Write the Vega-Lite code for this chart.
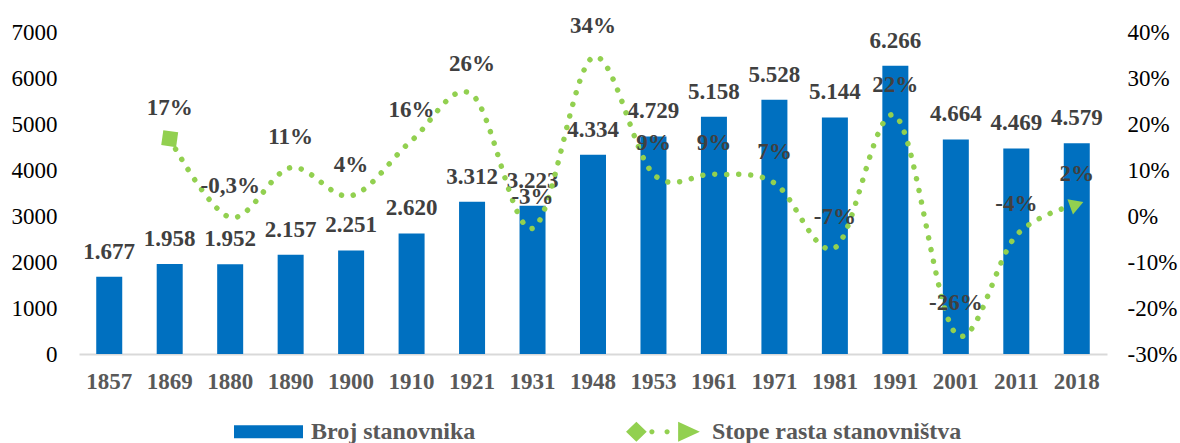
{
 "$schema": "https://vega.github.io/schema/vega-lite/v6.json",
 "width": 1028,
 "height": 322,
 "autosize": "none",
 "padding": {"left": 79, "top": 32, "right": 73, "bottom": 89},
 "background": "white",
 "config": {"view": {"stroke": null}, "font": "Liberation Serif"},
 "data": {"values": [
  {"year": "1857", "pop": 1677, "pop_label": "1.677", "rate": null, "rate_label": ""},
  {"year": "1869", "pop": 1958, "pop_label": "1.958", "rate": 16.8, "rate_label": "17%"},
  {"year": "1880", "pop": 1952, "pop_label": "1.952", "rate": -0.3, "rate_label": "-0,3%"},
  {"year": "1890", "pop": 2157, "pop_label": "2.157", "rate": 10.5, "rate_label": "11%"},
  {"year": "1900", "pop": 2251, "pop_label": "2.251", "rate": 4.4, "rate_label": "4%"},
  {"year": "1910", "pop": 2620, "pop_label": "2.620", "rate": 16.4, "rate_label": "16%"},
  {"year": "1921", "pop": 3312, "pop_label": "3.312", "rate": 26.4, "rate_label": "26%"},
  {"year": "1931", "pop": 3223, "pop_label": "3.223", "rate": -2.7, "rate_label": "-3%"},
  {"year": "1948", "pop": 4334, "pop_label": "4.334", "rate": 34.5, "rate_label": "34%"},
  {"year": "1953", "pop": 4729, "pop_label": "4.729", "rate": 9.1, "rate_label": "9%"},
  {"year": "1961", "pop": 5158, "pop_label": "5.158", "rate": 9.1, "rate_label": "9%"},
  {"year": "1971", "pop": 5528, "pop_label": "5.528", "rate": 7.2, "rate_label": "7%"},
  {"year": "1981", "pop": 5144, "pop_label": "5.144", "rate": -6.9, "rate_label": "-7%"},
  {"year": "1991", "pop": 6266, "pop_label": "6.266", "rate": 21.8, "rate_label": "22%"},
  {"year": "2001", "pop": 4664, "pop_label": "4.664", "rate": -25.6, "rate_label": "-26%"},
  {"year": "2011", "pop": 4469, "pop_label": "4.469", "rate": -4.2, "rate_label": "-4%"},
  {"year": "2018", "pop": 4579, "pop_label": "4.579", "rate": 2.5, "rate_label": "2%"}
 ]},
 "encoding": {
  "x": {"field": "year", "type": "ordinal", "sort": null,
   "scale": {"paddingInner": 0.57, "paddingOuter": 0.285},
   "axis": {"title": null, "labelAngle": 0, "ticks": false, "grid": false,
    "domainColor": "#D9D9D9", "domainWidth": 2,
    "labelFont": "Liberation Serif", "labelFontSize": 23, "labelFontWeight": "bold",
    "labelColor": "#595959", "labelPadding": 16}}
 },
 "layer": [
  {
   "encoding": {
    "y": {"field": "pop", "type": "quantitative", "scale": {"domain": [0, 7000], "nice": false},
     "axis": {"orient": "left", "title": null, "values": [0, 1000, 2000, 3000, 4000, 5000, 6000, 7000],
      "labelExpr": "'' + datum.value",
      "domain": false, "ticks": false, "grid": false, "labelFont": "Liberation Serif",
      "labelFontSize": 23, "labelColor": "#000000", "labelPadding": 22}}
   },
   "layer": [
    {"mark": {"type": "bar"},
     "encoding": {"color": {"datum": "Broj stanovnika",
      "scale": {"domain": ["Broj stanovnika", "Stope rasta stanovništva"], "range": ["#0070C0", "#92D050"]},
      "legend": {"title": null, "orient": "none", "legendX": 155, "legendY": 365,
       "direction": "horizontal", "columns": 2, "columnPadding": 150, "padding": 0,
       "symbolSize": 4761, "symbolStrokeWidth": 0, "labelLimit": 0,
       "labelFont": "Liberation Serif", "labelFontSize": 24, "labelFontWeight": "bold",
       "labelColor": "#595959", "labelOffset": 8,
       "encode": {"symbols": {"update": {
        "shape": {"signal": "datum.value === 'Broj stanovnika' ? 'M-1,-0.19H1V0.19H-1Z' : 'M-1.26,0L-0.96,-0.29L-0.66,0L-0.96,0.29Z M-0.585,0A0.075,0.075,0,1,0,-0.435,0A0.075,0.075,0,1,0,-0.585,0Z M-0.145,0A0.075,0.075,0,1,0,0.005,0A0.075,0.075,0,1,0,-0.145,0Z M0.25,-0.29L0.88,0L0.25,0.29Z'"},
        "fill": {"signal": "datum.value === 'Broj stanovnika' ? '#0070C0' : '#92D050'"},
        "stroke": {"value": "transparent"},
        "opacity": {"value": 1}
       }}}}}}},
    {"mark": {"type": "text", "dy": -25, "baseline": "middle", "font": "Liberation Serif",
      "fontSize": 23, "fontWeight": "bold", "color": "#404040"},
     "encoding": {"text": {"field": "pop_label"}}}
   ]
  },
  {
   "transform": [{"filter": "isValid(datum.rate)"}],
   "encoding": {
    "y": {"field": "rate", "type": "quantitative", "scale": {"domain": [-30, 40], "nice": false},
     "axis": {"orient": "right", "title": null, "values": [-30, -20, -10, 0, 10, 20, 30, 40],
      "labelExpr": "datum.value + '%'",
      "domain": false, "ticks": false, "grid": false, "labelFont": "Liberation Serif",
      "labelFontSize": 23, "labelColor": "#000000", "labelPadding": 20}}
   },
   "layer": [
    {"mark": {"type": "line", "interpolate": "cardinal", "strokeDash": [0.01, 12],
      "strokeCap": "round", "strokeWidth": 5.5},
     "encoding": {"color": {"datum": "Stope rasta stanovništva"}}},
    {"transform": [{"filter": "datum.year == '1869'"}],
     "mark": {"type": "point", "shape": "square", "filled": true, "size": 225, "angle": 8,
      "color": "#92D050", "opacity": 1}},
    {"transform": [{"filter": "datum.year == '2018'"}],
     "mark": {"type": "point", "shape": "triangle-right", "filled": true, "size": 260, "angle": -20,
      "color": "#92D050", "opacity": 1}},
    {"mark": {"type": "text", "dy": -31, "baseline": "middle", "font": "Liberation Serif",
      "fontSize": 23, "fontWeight": "bold", "color": "#404040"},
     "encoding": {"text": {"field": "rate_label"}}}
   ]
  }
 ],
 "resolve": {"scale": {"y": "independent"}}
}
